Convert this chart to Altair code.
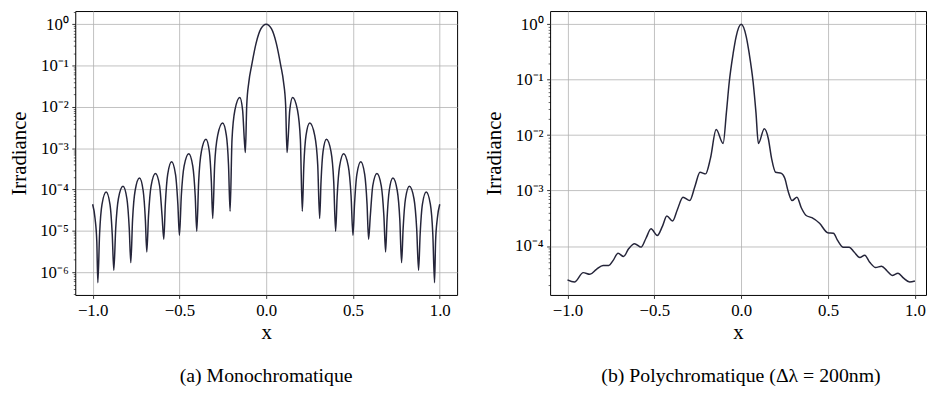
import altair as alt
import pandas as pd

FONT = "Liberation Serif"
LINE = "#25253a"
GRID = "#b0b0b0"

# ---------------- data ----------------
# (a) monochromatic irradiance vs x
mono_x = [
    -1.000, -0.986, -0.976,
    -0.970, -0.960, -0.946, -0.922, -0.900, -0.887,
    -0.878, -0.867, -0.8515, -0.825, -0.8025, -0.789,
    -0.780, -0.770, -0.755, -0.730, -0.709, -0.696,
    -0.688, -0.678, -0.663, -0.638, -0.614, -0.600,
    -0.590, -0.581, -0.5675, -0.545, -0.5225, -0.509,
    -0.500, -0.489, -0.473, -0.446, -0.423, -0.409,
    -0.400, -0.389, -0.3735, -0.347, -0.3275, -0.316,
    -0.308, -0.297, -0.2795, -0.251, -0.2295, -0.217,
    -0.208, -0.197, -0.180, -0.152, -0.136, -0.126,
    -0.120, -0.112, -0.100, -0.084, -0.058, -0.030,
    0.000,
    0.030, 0.058, 0.084, 0.100, 0.112, 0.120,
    0.126, 0.136, 0.152, 0.180, 0.197, 0.208,
    0.217, 0.2295, 0.251, 0.2795, 0.297, 0.308,
    0.316, 0.3275, 0.347, 0.3735, 0.389, 0.400,
    0.409, 0.423, 0.446, 0.473, 0.489, 0.500,
    0.509, 0.5225, 0.545, 0.5675, 0.581, 0.590,
    0.600, 0.614, 0.638, 0.663, 0.678, 0.688,
    0.696, 0.709, 0.730, 0.755, 0.770, 0.780,
    0.789, 0.8025, 0.825, 0.8515, 0.867, 0.878,
    0.887, 0.900, 0.922, 0.946, 0.960, 0.970,
    0.976, 0.986, 1.000,
]
mono_irr = [
    4.4e-5, 2.0e-5, 5.6e-6,
    5.6e-7, 8.3e-6, 4.4e-5, 8.7e-5, 4.4e-5, 8.3e-6,
    1.12e-6, 1.15e-5, 6.0e-5, 1.2e-4, 6.0e-5, 1.15e-5,
    1.7e-6, 1.82e-5, 9.5e-5, 1.9e-4, 9.5e-5, 1.82e-5,
    3.1e-6, 2.34e-5, 1.23e-4, 2.45e-4, 1.23e-4, 2.34e-5,
    6.3e-6, 4.5e-5, 2.34e-4, 4.7e-4, 2.34e-4, 4.5e-5,
    7.8e-6, 7.1e-5, 3.7e-4, 7.4e-4, 3.7e-4, 7.1e-5,
    9.8e-6, 1.58e-4, 8.3e-4, 1.66e-3, 8.3e-4, 1.58e-4,
    2.0e-5, 3.9e-4, 2.04e-3, 4.07e-3, 2.04e-3, 3.9e-4,
    3.0e-5, 1.62e-3, 8.5e-3, 1.70e-2, 8.5e-3, 1.62e-3,
    7.9e-4, 0.0112, 0.040, 0.10, 0.35, 0.78,
    1.0,
    0.78, 0.35, 0.10, 0.040, 0.0112, 7.9e-4,
    1.62e-3, 8.5e-3, 1.70e-2, 8.5e-3, 1.62e-3, 3.0e-5,
    3.9e-4, 2.04e-3, 4.07e-3, 2.04e-3, 3.9e-4, 2.0e-5,
    1.58e-4, 8.3e-4, 1.66e-3, 8.3e-4, 1.58e-4, 9.8e-6,
    7.1e-5, 3.7e-4, 7.4e-4, 3.7e-4, 7.1e-5, 7.8e-6,
    4.5e-5, 2.34e-4, 4.7e-4, 2.34e-4, 4.5e-5, 6.3e-6,
    2.34e-5, 1.23e-4, 2.45e-4, 1.23e-4, 2.34e-5, 3.1e-6,
    1.82e-5, 9.5e-5, 1.9e-4, 9.5e-5, 1.82e-5, 1.7e-6,
    1.15e-5, 6.0e-5, 1.2e-4, 6.0e-5, 1.15e-5, 1.12e-6,
    8.3e-6, 4.4e-5, 8.7e-5, 4.4e-5, 8.3e-6, 5.6e-7,
    5.6e-6, 2.0e-5, 4.4e-5,
]

# (b) polychromatic irradiance vs x
poly_x = [
    -1.000, -0.960, -0.909, -0.871, -0.833, -0.795, -0.762, -0.737,
    -0.709, -0.677, -0.648, -0.614, -0.576, -0.548, -0.519, -0.483,
    -0.453, -0.428, -0.395, -0.367, -0.335, -0.296, -0.266, -0.237,
    -0.205, -0.177, -0.144, -0.104, -0.085, -0.069, -0.046, -0.029,
    0.000,
    0.029, 0.046, 0.069, 0.085, 0.099, 0.133, 0.156, 0.175,
    0.198, 0.232, 0.251, 0.270, 0.293, 0.321, 0.346, 0.374,
    0.407, 0.451, 0.498, 0.531, 0.555, 0.588, 0.622, 0.650,
    0.683, 0.711, 0.740, 0.774, 0.808, 0.840, 0.869, 0.903,
    0.935, 0.970, 1.000,
]
poly_irr = [
    2.45e-5, 2.24e-5, 3.31e-5, 3.09e-5, 3.8e-5, 4.47e-5, 4.47e-5, 5.5e-5,
    7.41e-5, 6.46e-5, 8.91e-5, 1.10e-4, 9.55e-5, 1.38e-4, 2.04e-4, 1.55e-4,
    2.29e-4, 3.47e-4, 2.82e-4, 4.57e-4, 7.59e-4, 6.61e-4, 1.20e-3, 2.14e-3,
    2.0e-3, 3.8e-3, 1.26e-2, 7.08e-3, 2.57e-2, 8.9e-2, 0.30, 0.60,
    1.0,
    0.60, 0.30, 8.9e-2, 2.57e-2, 7.08e-3, 1.30e-2, 8.7e-3, 3.8e-3,
    2.14e-3, 2.04e-3, 1.66e-3, 9.8e-4, 6.6e-4, 7.6e-4, 4.9e-4, 3.55e-4,
    3.24e-4, 2.57e-4, 1.74e-4, 1.70e-4, 1.26e-4, 9.5e-5, 9.5e-5, 7.8e-5,
    6.2e-5, 6.8e-5, 5.1e-5, 4.1e-5, 4.3e-5, 3.55e-5, 2.95e-5, 3.24e-5,
    2.63e-5, 2.24e-5, 2.34e-5,
]

x_ticks = [-1.0, -0.5, 0.0, 0.5, 1.0]
decades = [1e-7, 1e-6, 1e-5, 1e-4, 1e-3, 1e-2, 1e-1, 1e0]
minor_mult = [1, 2, 3, 4, 5, 6, 7, 8, 9]

mono_ydomain = [2.82e-7, 2.09]
poly_ydomain = [1.31e-5, 1.73]

captions = ["(a) Monochromatique", "(b) Polychromatique (\u0394\u03bb = 200nm)"]

# ---------------- helpers ----------------
def log_ticks(lo, hi):
    vals = []
    for d in decades:
        for m in minor_mult:
            v = m * d
            if lo <= v <= hi:
                vals.append(v)
    return vals

MAJOR = "abs(log(datum.value)/LN10 - round(log(datum.value)/LN10)) < 0.001"
SUP = "['\u2070','\u00b9','\u00b2','\u00b3','\u2074','\u2075','\u2076','\u2077']"
LABEL = (f"{MAJOR} ? '10' + (datum.value < 0.5 ? '\u207b' : '') + "
         f"{SUP}[abs(round(log(datum.value)/LN10))] : ''")


def yaxis(lo, hi):
    return alt.Axis(
        values=log_ticks(lo, hi),
        labelExpr=LABEL,
        tickSize={"condition": {"test": MAJOR, "value": 3.5}, "value": 2.0},
        tickWidth={"condition": {"test": MAJOR, "value": 0.8}, "value": 0.6},
        gridOpacity={"condition": {"test": MAJOR, "value": 1}, "value": 0},
        labelFontSize={"condition": {"test": MAJOR, "value": 17}, "value": 0},
        grid=True, gridColor=GRID, gridWidth=0.8,
        tickColor="black", domain=False,
        labelFont=FONT, labelColor="black", labelPadding=3.5,
        title="Irradiance", titleFont=FONT, titleFontSize=21,
        titleFontWeight="normal", titleColor="black", titlePadding=6,
        minExtent=40, maxExtent=40,
    )


def xaxis():
    return alt.Axis(
        values=x_ticks, format=".1f", labelFlush=False,
        grid=True, gridColor=GRID, gridWidth=0.8,
        tickSize=3.5, tickWidth=0.8, tickColor="black", domain=False,
        labelFont=FONT, labelFontSize=17, labelColor="black", labelPadding=4,
        title="x", titleFont=FONT, titleFontSize=21, titleFontWeight="normal",
        titleColor="black", titlePadding=4,
    )


def panel(df, xdom, ydom, width, caption, dx):
    return alt.Chart(df).mark_line(
        color=LINE, strokeWidth=1.5, interpolate="monotone", clip=True
    ).encode(
        x=alt.X("x:Q", scale=alt.Scale(domain=xdom, nice=False, zero=False), axis=xaxis()),
        y=alt.Y("irr:Q", scale=alt.Scale(type="log", domain=ydom, nice=False), axis=yaxis(*ydom)),
    ).properties(
        width=width, height=287,
        title=alt.TitleParams(
            caption, orient="bottom", anchor="middle", frame="group",
            font=FONT, fontSize=20, fontWeight="normal", color="black",
            offset=24, dx=dx,
        ),
    )


mono_df = pd.DataFrame({"x": mono_x, "irr": mono_irr})
poly_df = pd.DataFrame({"x": poly_x, "irr": poly_irr})

left = panel(mono_df, [-1.1, 1.1], mono_ydomain, 386, captions[0], 0)
right = panel(poly_df, [-1.1, 1.064], poly_ydomain, 380, captions[1], 3)

chart = alt.hconcat(left, right, spacing=25).properties(
    padding={"left": 0, "top": 0, "right": 0, "bottom": 0},
    background="white",
).configure_view(stroke="black", strokeWidth=1)

chart.save("out.html", embed_options={"renderer": "svg", "actions": False})
